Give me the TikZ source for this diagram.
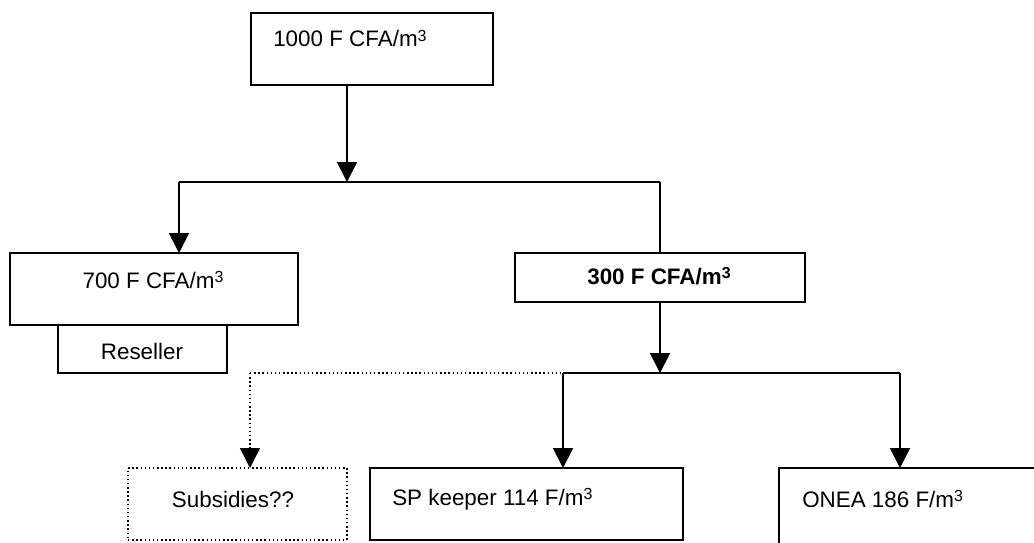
\documentclass[tikz,border=0pt]{standalone}
\usepackage{fontspec}
\setmainfont{Liberation Sans}
\usetikzlibrary{arrows.meta}
\newcommand{\cub}{\raisebox{4pt}{\fontsize{12}{12}\selectfont 3}}
\begin{document}
\begin{tikzpicture}[x=0.75pt,y=-0.75pt,
  box/.style={draw, line width=1.4pt, inner sep=0pt, outer sep=0pt},
  dbox/.style={draw, dotted, line width=1.1pt, inner sep=0pt, outer sep=0pt},
  lbl/.style={inner sep=0pt, font=\fontsize{16.8}{19}\selectfont},
  conn/.style={line width=1.4pt},
  arr/.style={line width=1.4pt, -{Triangle[width=15pt,length=15pt]}},
  darr/.style={line width=1.1pt, dotted, -{Triangle[width=15pt,length=15pt]}}]
\useasboundingbox (0,0) rectangle (1034,542);
\clip (0,0) rectangle (1034,542);
\fill[white] (0,0) rectangle (1034,542);
% boxes
\node[box, minimum width=181.5pt, minimum height=54pt] (top) at (372,49) {};
\node[box, minimum width=216pt, minimum height=54pt] (b700) at (154,289) {};
\node[box, minimum width=126.75pt, minimum height=36pt] (resel) at (142.5,349) {};
\node[box, minimum width=217.5pt, minimum height=36.75pt] (b300) at (660,277.5) {};
\node[dbox, minimum width=164.25pt, minimum height=54pt] (subs) at (237.5,504) {};
\node[box, minimum width=234.75pt, minimum height=54pt] (sp) at (526.5,504) {};
\node[box, minimum width=195.75pt, minimum height=61.5pt] (onea) at (909.5,509) {};
% texts
\node[lbl, anchor=base west] (t1000) at (273,47) {1000 F CFA/m\cub};
\node[lbl, anchor=base] (t700) at (153,288) {700 F CFA/m\cub};
\node[lbl, anchor=base] (tres) at (142,359) {Reseller};
\node[lbl, anchor=base, font=\fontsize{16.8}{19}\selectfont\bfseries] (t300) at (659,284) {300 F CFA/m\cub};
\node[lbl, anchor=base] (tsub) at (233,507) {Subsidies??};
\node[lbl, anchor=base west] (tsp) at (392,505) {SP keeper 114 F/m\cub};
\node[lbl, anchor=base west] (tonea) at (802,507) {ONEA 186 F/m\cub};
% junctions
\coordinate (j1) at (347,182);
\coordinate (l1) at (179,182);
\coordinate (r1) at (660,182);
\coordinate (j2) at (660,373);
\coordinate (d1) at (250,373);
\coordinate (s1) at (563,373);
\coordinate (o1) at (900,373);
% connectors
\draw[arr] (top.south -| j1) -- (j1);
\draw[conn] (l1) -- (r1);
\draw[arr] (l1) -- (l1 |- b700.north);
\draw[conn] (r1) -- (r1 |- b300.north);
\draw[arr] (b300.south -| j2) -- (j2);
\draw[line width=1.1pt, dotted] (d1) -- (s1);
\draw[conn] (s1) -- (o1);
\draw[darr] (d1) -- (d1 |- subs.north);
\draw[arr] (s1) -- (s1 |- sp.north);
\draw[arr] (o1) -- (o1 |- onea.north);
\end{tikzpicture}
\end{document}
